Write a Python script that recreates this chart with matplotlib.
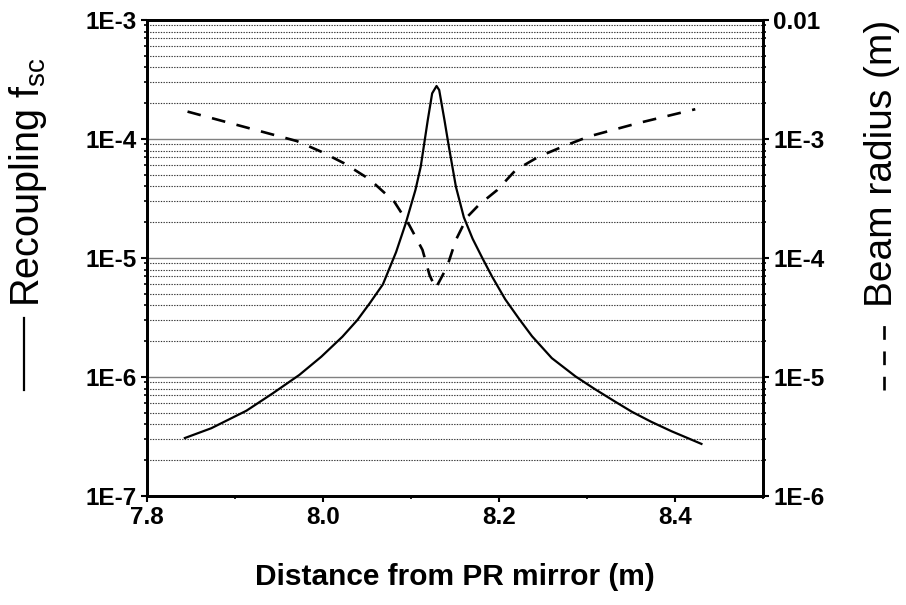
import numpy as np
import matplotlib.pyplot as plt
from matplotlib.lines import Line2D
from matplotlib.ticker import FixedLocator, FuncFormatter, LogLocator, NullFormatter

# recoupling f_sc (solid line, left axis)
dist_fsc = [7.843, 7.873, 7.913, 7.943, 7.973, 7.998, 8.022, 8.039, 8.053, 8.068,
            8.083, 8.094, 8.105, 8.111, 8.119, 8.124, 8.129, 8.132, 8.138, 8.143,
            8.151, 8.160, 8.170, 8.181, 8.192, 8.207, 8.2225, 8.2375, 8.260, 8.287,
            8.309, 8.332, 8.351, 8.373, 8.396, 8.430]
fsc = [3.07e-7, 3.71e-7, 5.21e-7, 7.3e-7, 1.04e-6, 1.48e-6, 2.18e-6, 3.01e-6, 4.16e-6, 6.0e-6,
       1.12e-5, 1.96e-5, 3.73e-5, 5.85e-5, 1.44e-4, 2.42e-4, 2.79e-4, 2.58e-4, 1.44e-4, 8.61e-5,
       3.97e-5, 2.2e-5, 1.45e-5, 1.0e-5, 7.0e-6, 4.5e-6, 3.1e-6, 2.2e-6, 1.44e-6, 1.01e-6,
       7.9e-7, 6.2e-7, 5.1e-7, 4.2e-7, 3.5e-7, 2.74e-7]

# beam radius (dashed line, right axis)
dist_w = [7.846, 7.970, 7.998, 8.024, 8.053, 8.081, 8.098, 8.113, 8.121, 8.128,
          8.141, 8.151, 8.164, 8.177, 8.198, 8.219, 8.245, 8.272, 8.302, 8.358, 8.423]
beam_w = [1.70e-3, 9.62e-4, 7.82e-4, 6.25e-4, 4.58e-4, 2.97e-4, 1.89e-4, 1.17e-4, 7.20e-5, 5.56e-5,
          8.45e-5, 1.42e-4, 2.22e-4, 2.79e-4, 3.73e-4, 5.49e-4, 7.10e-4, 8.61e-4, 1.05e-3, 1.36e-3, 1.78e-3]

x_ticks = [7.8, 8.0, 8.2, 8.4]
x_minor = [7.9, 8.1, 8.3, 8.5]

plt.rcParams['font.family'] = ['Liberation Sans', 'DejaVu Sans']

fig = plt.figure(figsize=(9.06, 6.05), dpi=100)
ax = fig.add_axes([0.1623, 0.1802, 0.6799, 0.7867])
ax2 = ax.twinx()

ax.plot(dist_fsc, fsc, color='black', lw=1.6, zorder=3)
ax2.plot(dist_w, beam_w, color='black', lw=1.9, dashes=(5.2, 4.4), zorder=3)

ax.set_xlim(7.8, 8.5)
ax.set_yscale('log')
ax.set_ylim(1e-7, 1e-3)
ax2.set_yscale('log')
ax2.set_ylim(1e-6, 1e-2)

ax.xaxis.set_major_locator(FixedLocator(x_ticks))
ax.xaxis.set_minor_locator(FixedLocator(x_minor))
ax.xaxis.set_major_formatter(FuncFormatter(lambda v, p: f"{v:.1f}"))

def sci(v, p):
    e = int(round(np.log10(v)))
    return "0.01" if e == -2 else f"1E{e}"

for a in (ax, ax2):
    a.yaxis.set_major_locator(LogLocator(base=10, numticks=10))
    a.yaxis.set_minor_locator(LogLocator(base=10, subs=np.arange(2, 10), numticks=10))
    a.yaxis.set_minor_formatter(NullFormatter())
    a.yaxis.set_major_formatter(FuncFormatter(sci))
    a.tick_params(which='major', direction='out', length=4.5, width=1.5, labelsize=17.5, pad=3)
    a.tick_params(which='minor', direction='out', length=2.5, width=1.2)
    for lab in a.get_yticklabels() + a.get_xticklabels():
        lab.set_fontweight('bold')
    for s in a.spines.values():
        s.set_linewidth(2)

# grid lines
ax.yaxis.grid(True, which='major', color='#808080', lw=1, ls='-')
ax.yaxis.grid(True, which='minor', color='#333333', lw=0.8, ls=(0, (1.2, 1.2)))
ax.set_axisbelow(True)

fig.text(0.502, 0.047, "Distance from PR mirror (m)", ha='center', va='center',
         fontsize=21.5, fontweight='bold')

# y labels with line-style keys
fig.text(0.031, 0.492, r"Recoupling f$_{\mathregular{sc}}$", rotation=90,
         ha='center', va='bottom', fontsize=28.5)
fig.add_artist(Line2D([0.026, 0.026], [0.355, 0.475], color='black', lw=1.6,
                      transform=fig.transFigure))
fig.text(0.974, 0.492, "Beam radius (m)", rotation=90, ha='center', va='bottom', fontsize=28)
fig.add_artist(Line2D([0.976, 0.976], [0.355, 0.475], color='black', lw=1.9,
                      dashes=(5.2, 4.4), transform=fig.transFigure))

plt.savefig("out.png", dpi=100)
